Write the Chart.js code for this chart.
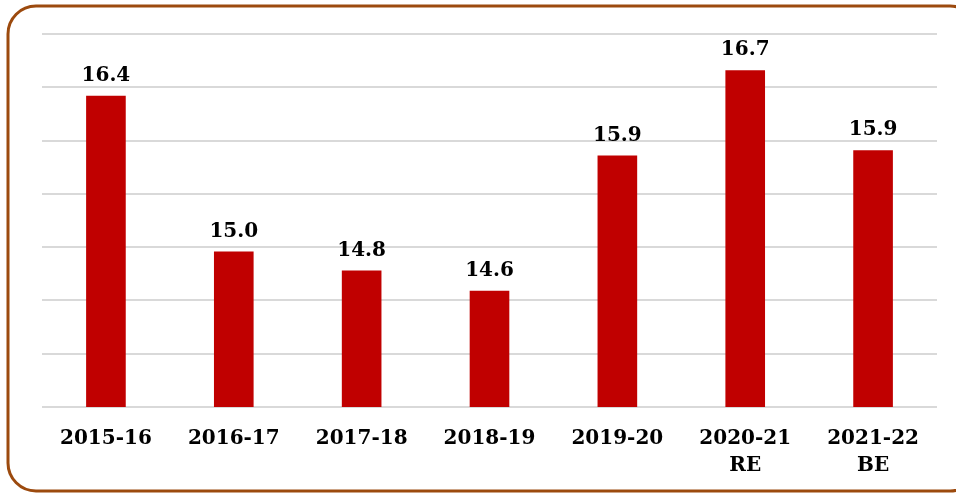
<html>
<head>
	<meta charset="UTF-8" />
	<script src="https://cdn.jsdelivr.net/npm/chart.js@4.4.0/dist/chart.umd.min.js"></script>
	<style>
		body { margin: 0; background: #ffffff; }
	</style>
</head>
<body>
	<canvas id="myChart" width="956" height="493"></canvas>
	<script>
const years = ["2015-16", "2016-17", "2017-18", "2018-19", "2019-20", ["2020-21", "RE"], ["2021-22", "BE"]];
const shareValues = [16.42, 14.96, 14.78, 14.59, 15.86, 16.66, 15.91];
const axisMin = 13.5;
const axisMax = 17.0;
const axisStep = 0.5;

const serif = "'DejaVu Serif', Georgia, serif";

// rounded frame round the whole picture
const framePlugin = {
	id: "frame",
	beforeDraw(chart) {
		const ctx = chart.ctx;
		ctx.save();
		ctx.strokeStyle = "#9C4A0E";
		ctx.lineWidth = 3;
		ctx.beginPath();
		ctx.roundRect(8, 6, 970, 485, 28);
		ctx.stroke();
		ctx.restore();
	}
};

// value labels above each bar
const valueLabels = {
	id: "valueLabels",
	afterDatasetsDraw(chart) {
		const ctx = chart.ctx;
		const meta = chart.getDatasetMeta(0);
		ctx.save();
		ctx.fillStyle = "#000000";
		ctx.font = "bold 20px " + serif;
		ctx.textAlign = "center";
		ctx.textBaseline = "middle";
		meta.data.forEach((bar, i) => {
			ctx.fillText(shareValues[i].toFixed(1), bar.x, bar.y - 20);
		});
		ctx.restore();
	}
};

const chart = new Chart(document.getElementById("myChart").getContext("2d"), {
	type: "bar",
	data: {
		labels: years,
		datasets: [
			{ data: shareValues, backgroundColor: "#C00000", barPercentage: 0.31, categoryPercentage: 1.0 }
		]
	},
	options: {
		responsive: false,
		animation: false,
		layout: { padding: { left: 42, right: 19, top: 34, bottom: 0 } },
		scales: {
			x: {
				grid: { display: false },
				border: { display: false },
				ticks: {
					color: "#000000",
					font: { family: serif, size: 20, weight: "bold", lineHeight: 1.35 },
					padding: 10,
					maxRotation: 0,
					autoSkip: false
				},
				afterFit: (scale) => { scale.height = 86; }
			},
			y: {
				min: axisMin,
				max: axisMax,
				ticks: { display: false, stepSize: axisStep },
				grid: { color: "#D9D9D9", lineWidth: 2, drawTicks: false },
				border: { display: false },
				afterFit: (scale) => { scale.width = 0; }
			}
		},
		plugins: {
			legend: { display: false },
			tooltip: { enabled: false }
		}
	},
	plugins: [framePlugin, valueLabels]
});
	</script>
</body>
</html>
